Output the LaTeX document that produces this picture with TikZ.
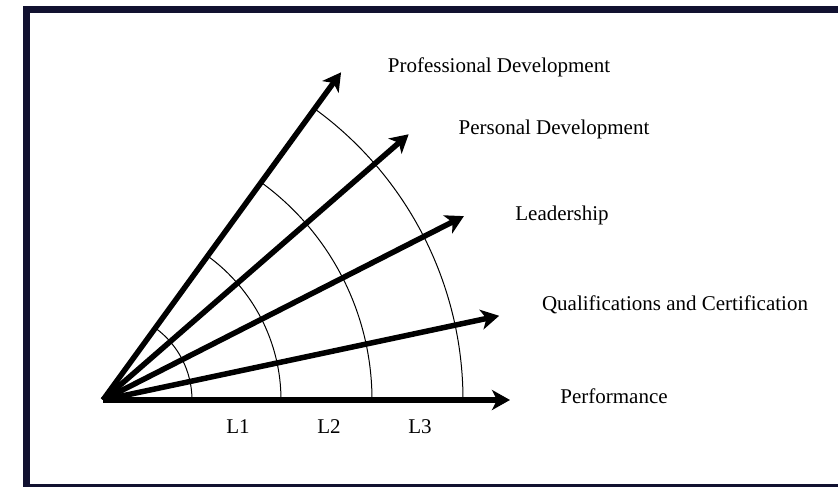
\documentclass[tikz,border=0pt]{standalone}
\usepackage{fontspec}
\setmainfont{Liberation Serif}
\usetikzlibrary{arrows.meta}

\begin{document}
\begin{tikzpicture}[x=1pt,y=1pt]
        \tikzset{
        dim arrow/.style={line width=5.5pt,-{Stealth[length=18pt,width=20pt,inset=5pt]}},
        dim ring/.style={line width=1pt},
        dim label/.style={font=\fontsize{21}{25}\selectfont,inner sep=0},
        level label/.style={font=\fontsize{21}{25}\selectfont,inner sep=0}
        }
        \useasboundingbox (0,0) rectangle (838,487);
        % frame
        \draw[line width=7pt,color={rgb,255:red,17;green,17;blue,48}]
        (845,477.5) -- (26.5,477.5) -- (26.5,-0.5) -- (845,-0.5);
        
        \coordinate (o) at (103,87);
        \path (o) ++(0:407) coordinate (perf);
        \path (o) ++(12:405) coordinate (qual);
        \path (o) ++(27:405) coordinate (lead);
        \path (o) ++(41:405) coordinate (pers);
        \path (o) ++(54:405) coordinate (prof);
        
        % level arcs
        \foreach \r in {89,178,269,360}
        \draw[dim ring] (o) ++(0:\r) arc[start angle=0,end angle=54,radius=\r];
        
        \path[draw]
        (o) edge[dim arrow] (perf)
        (o) edge[dim arrow] (qual)
        (o) edge[dim arrow] (lead)
        (o) edge[dim arrow] (pers)
        (o) edge[dim arrow] (prof)
        ;
        
        \node[dim label] (profl) at (499,420) {Professional Development};
        \node[dim label] (persl) at (554,358) {Personal Development};
        \node[dim label] (leadl) at (562,272) {Leadership};
        \node[dim label] (quall) at (675,182) {Qualifications and Certification};
        \node[dim label] (perfl) at (614,91) {Performance};
        \node[level label] (l1) at (238,60) {L1};
        \node[level label] (l2) at (329,60) {L2};
        \node[level label] (l3) at (420,60) {L3};
    \end{tikzpicture}
\end{document}
